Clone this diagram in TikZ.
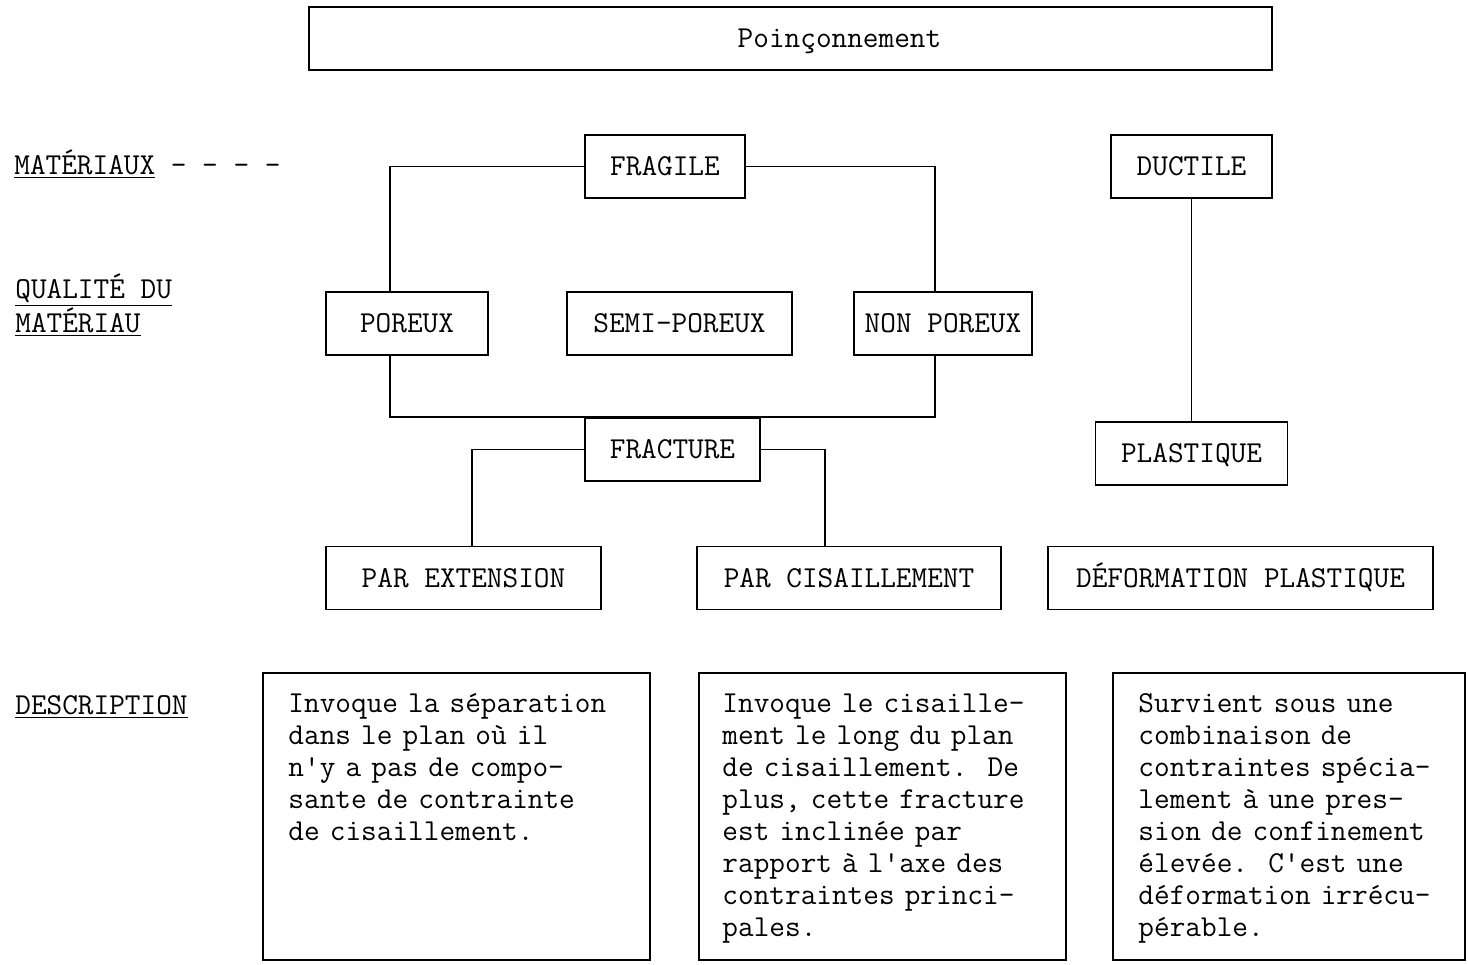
\documentclass[tikz,border=0pt]{standalone}
\usepackage{fontspec}
\usetikzlibrary{positioning}
\newcommand{\diagfont}{\fontsize{17.3}{18.2}\selectfont\ttfamily}

\begin{document}
\frenchspacing
\begin{tikzpicture}[
    font=\diagfont,
    box/.style={rectangle, draw, line width=1pt, inner sep=0pt, text=black,
        minimum height=1.26cm, text height=10.6pt, text depth=0pt},
    descbox/.style={rectangle, draw, line width=1pt, minimum width=#1,
        minimum height=5.74cm},
    desctext/.style={text width=7cm, align=left, inner sep=0pt},
    rowname/.style={inner sep=0pt, anchor=base west, align=left},
    link/.style={line width=1pt}
]

    \useasboundingbox (0,0) rectangle (29.36,19.28);

    % Nodes ------------------------------------------------------

    \node[box, minimum width=19.26cm] (title) at (15.81,18.51) {\hspace*{1.96cm}Poinçonnement};

    \node[box, minimum width=3.2cm] (fragile) at (13.30,15.95) {FRAGILE};
    \node[box, minimum width=3.22cm] (ductile) at (23.83,15.95) {DUCTILE};

    \node[box, minimum width=3.24cm] (poreux) at (8.14,12.81) {POREUX};
    \node[box, minimum width=4.5cm] (semi) at (13.59,12.81) {SEMI-POREUX};
    \node[box, minimum width=3.56cm] (nonporeux) at (18.86,12.81) {NON POREUX};

    \node[box, minimum width=3.5cm] (fracture) at (13.45,10.29) {FRACTURE};
    \node[box, minimum width=3.84cm, below=4.44cm of ductile] (plastique) {PLASTIQUE};

    \node[box, minimum width=5.5cm] (extension) at (9.27,7.72) {PAR EXTENSION};
    \node[box, minimum width=6.08cm] (cisaillement) at (16.98,7.72) {PAR CISAILLEMENT};
    \node[box, minimum width=7.7cm] (deformation) at (24.81,7.72) {DÉFORMATION PLASTIQUE};

    % Row names --------------------------------------------------

    \node[rowname] (materiaux) at (0.28,15.79) {\underline{MATÉRIAUX} - - - -};
    \node[rowname] (qualite) at (0.30,12.63) {\underline{QUALITÉ DU}\\\underline{MATÉRIAU}};
    \node[rowname] (description) at (0.30,4.99) {\underline{DESCRIPTION}};

    % Descriptions -----------------------------------------------

    \node[descbox=7.74cm] (d1) at (9.13,2.95) {};
    \node[descbox=7.34cm] (d2) at (17.65,2.95) {};
    \node[descbox=7.04cm] (d3) at (25.78,2.95) {};

    \node[desctext, below right=0.8cm and 0.52cm of d1.north west, anchor=base west] (t1)
        {Invoque la séparation\\dans le plan où il\\n'y a pas de compo-\\sante de contrainte\\de cisaillement.};
    \node[desctext, below right=0.8cm and 0.48cm of d2.north west, anchor=base west] (t2)
        {Invoque le cisaille-\\ment le long du plan\\de cisaillement.~~De\\plus, cette fracture\\est inclinée par\\rapport à l'axe des\\contraintes princi-\\pales.};
    \node[desctext, below right=0.8cm and 0.52cm of d3.north west, anchor=base west] (t3)
        {Survient sous une\\combinaison de\\contraintes spécia-\\lement à une pres-\\sion de confinement\\élevée.~~C'est une\\déformation irrécu-\\pérable.};

    % Lines ------------------------------------------------------

    \draw[link] (fragile.west) -| ([xshift=-0.34cm]poreux.north);
    \draw[link] (fragile.east) -| ([xshift=-0.16cm]nonporeux.north);
    \draw[link] ([xshift=-0.34cm]poreux.south) |- (fracture.north)
        -| ([xshift=-0.16cm]nonporeux.south);
    \draw[link] (fracture.west) -| ([xshift=0.17cm]extension.north);
    \draw[link] (fracture.east) -| ([xshift=-0.48cm]cisaillement.north);
    \draw[link] (ductile) -- (plastique);

\end{tikzpicture}
\end{document}
